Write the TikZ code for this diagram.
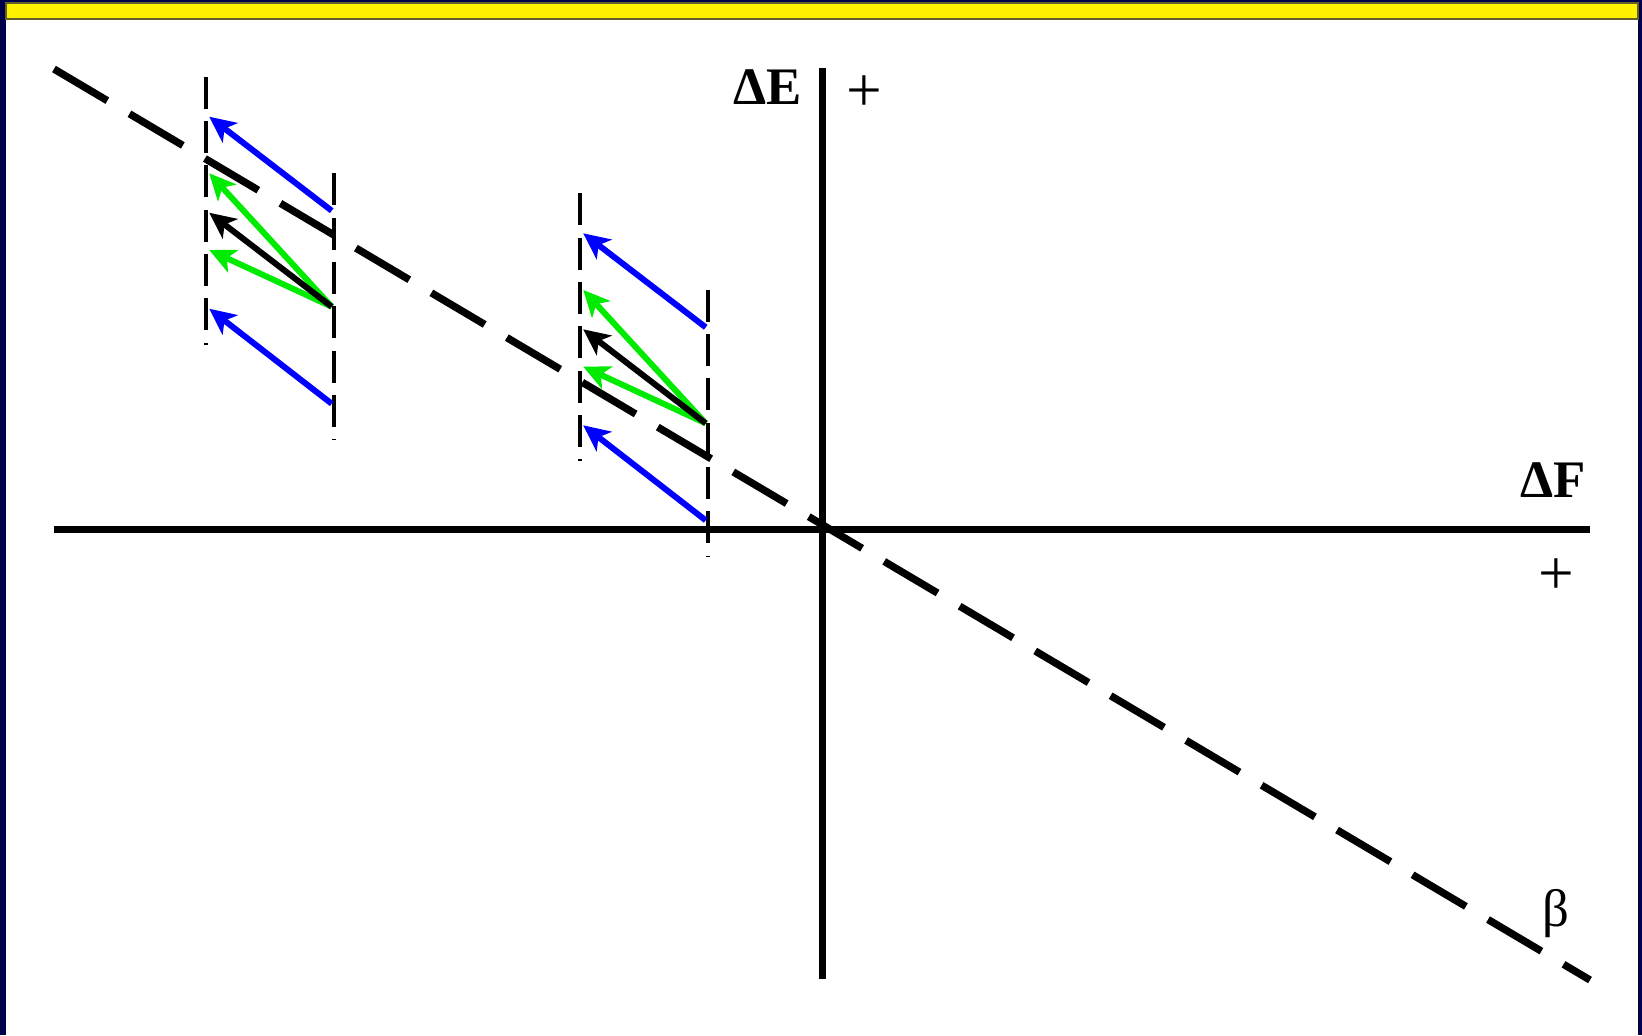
\documentclass[tikz,border=0pt]{standalone}
\usepackage{fontspec}
\setmainfont{Liberation Serif}
\usetikzlibrary{arrows.meta}
\definecolor{framenavy}{RGB}{0,0,72}
\definecolor{vgreen}{RGB}{0,235,0}
\begin{document}
\begin{tikzpicture}[x=.01cm,y=-.01cm,
  axis/.style={line width=2.1pt},
  betaline/.style={line width=2.1pt,dash pattern=on .62cm off .257cm},
  guide/.style={line width=1.25pt,dash pattern=on .32cm off .123cm},
  vec/.style={line width=1.7pt,-{Stealth[length=7.5pt,width=7pt,inset=2pt]}},
  lbl/.style={inner sep=0pt,font=\fontsize{15}{17}\selectfont},
  sgn/.style={inner sep=0pt,font=\fontsize{18}{20}\selectfont}]
  \useasboundingbox (0,0) rectangle (1642,1035);
  % frame
  \fill[framenavy] (0,0) rectangle (1642,1035);
  \fill[white] (6,20) rectangle (1638,1035);
  \filldraw[fill=yellow,draw=olive!60!black,line width=.3pt] (6,3) rectangle (1638,19);
  % axes and the beta line
  \coordinate (w) at (54,529.5);
  \coordinate (e) at (1590,529.5);
  \coordinate (n) at (822.7,68);
  \coordinate (s) at (822.7,979);
  \coordinate (b0) at (54,69);
  \coordinate (b1) at (1590,980);
  \draw[axis] (w)--(e);
  \draw[axis] (n)--(s);
  % two groups of vectors
  \foreach \g/\gx/\gy in {a/333.7/306.7,b/707.7/423.3}{
    \begin{scope}[shift={(\gx,\gy)}]
      \coordinate (\g lt) at (-127.5,-230);
      \coordinate (\g lb) at (-127.5,38);
      \coordinate (\g rt) at (0,-133.5);
      \coordinate (\g rb) at (0,133.5);
      \coordinate (\g o) at (-2,0);
      \coordinate (\g u) at (-2,-96);
      \coordinate (\g d) at (-2,97);
      \draw[guide] (\g lt)--(\g lb);
      \draw[guide] (\g rt)--(\g rb);
      \draw[vec,blue] (\g u)--(-124.5,-190);
      \draw[vec,blue] (\g d)--(-124.5,2);
      \draw[vec,vgreen] (\g o)--(-124.5,-133.4);
      \draw[vec,vgreen] (\g o)--(-124.5,-56.7);
      \draw[vec] (\g o)--(-124.5,-94);
    \end{scope}
  }
  \draw[betaline] (b0)--(b1);
  \node[lbl] (dE) at (768,87.5) {\textbf{ΔE}};
  \node[sgn] (pE) at (864,94) {+};
  \node[lbl] (dF) at (1553,480.5) {\textbf{ΔF}};
  \node[sgn] (pF) at (1556,577) {+};
  \node[lbl] (beta) at (1556,914) {β};
\end{tikzpicture}
\end{document}
